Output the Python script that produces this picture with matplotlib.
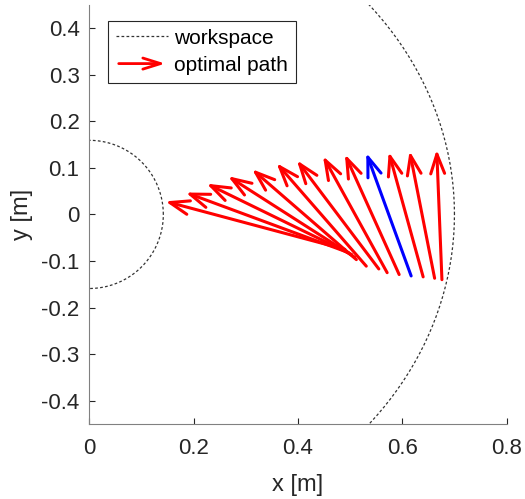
import numpy as np
import matplotlib
matplotlib.use("Agg")
import matplotlib.pyplot as plt
from matplotlib.patches import FancyArrowPatch
from matplotlib.legend_handler import HandlerPatch

plt.rcParams['font.family'] = ['Liberation Sans', 'DejaVu Sans']

# workspace boundaries [m]
r_inner_x = 0.142
r_inner_y = 0.159
r_outer = 0.70

# arrow tails and tips [m]
tail_x = [0.490, 0.497, 0.503, 0.509, 0.512, 0.531, 0.555, 0.571, 0.594, 0.617, 0.640, 0.662, 0.676]
tail_y = [-0.075, -0.082, -0.086, -0.092, -0.097, -0.111, -0.117, -0.125, -0.129, -0.132, -0.134, -0.137, -0.140]
tip_x = [0.146, 0.185, 0.225, 0.266, 0.312, 0.359, 0.398, 0.448, 0.490, 0.531, 0.574, 0.614, 0.666]
tip_y = [0.028, 0.047, 0.066, 0.082, 0.097, 0.110, 0.116, 0.125, 0.129, 0.132, 0.134, 0.136, 0.139]
highlight = 9   # the blue one

grey = '#262626'
astyle = '->,head_length=0.7,head_width=0.25'
dash = (0, (2.2, 1.8))


class HandlerArrow(HandlerPatch):
    def create_artists(self, legend, orig_handle, xdescent, ydescent,
                       width, height, fontsize, trans):
        a = FancyArrowPatch((-xdescent, height / 2), (width - xdescent, height / 2),
                            arrowstyle='->,head_length=0.8,head_width=0.25',
                            mutation_scale=16, color='red', lw=2, transform=trans)
        return [a]


fig = plt.figure(figsize=(5.25, 4.99), dpi=100)
ax = fig.add_axes([0.170, 0.150, 0.795, 0.8406])

t = np.linspace(0, 2 * np.pi, 400)
ws, = ax.plot(r_inner_x * np.cos(t), r_inner_y * np.sin(t), color='#333333',
              lw=0.9, linestyle=dash)
ax.plot(r_outer * np.cos(t), r_outer * np.sin(t), color='#333333', lw=0.9,
        linestyle=dash)

for i in range(len(tip_x)):
    c = 'blue' if i == highlight else 'red'
    arr = FancyArrowPatch((tail_x[i], tail_y[i]), (tip_x[i], tip_y[i]),
                          arrowstyle=astyle, mutation_scale=20,
                          color=c, lw=2.2, shrinkA=0, shrinkB=0)
    ax.add_patch(arr)

proxy = FancyArrowPatch((0, 0), (1, 0), color='red')
leg = ax.legend([ws, proxy], ['workspace', 'optimal path'],
                handler_map={FancyArrowPatch: HandlerArrow()},
                loc='upper left', bbox_to_anchor=(0.045, 0.962),
                fontsize=15, fancybox=False, framealpha=1,
                edgecolor=grey, handlelength=2.5, borderpad=0.38,
                labelspacing=0.4, handletextpad=0.3, borderaxespad=0)
leg.get_frame().set_linewidth(0.8)

ax.set_xlim(0, 0.8)
ax.set_ylim(-0.45, 0.45)
ax.set_xticks([0, 0.2, 0.4, 0.6, 0.8])
ax.set_xticklabels(['0', '0.2', '0.4', '0.6', '0.8'])
ax.set_yticks(np.round(np.arange(-0.4, 0.41, 0.1), 1))
ax.set_yticklabels(['-0.4', '-0.3', '-0.2', '-0.1', '0', '0.1', '0.2', '0.3', '0.4'])
ax.tick_params(direction='in', labelsize=16, colors=grey, length=4, width=0.8)
ax.tick_params(axis='x', pad=10)
ax.tick_params(axis='y', pad=7)
for s in ['top', 'right']:
    ax.spines[s].set_visible(False)
for s in ['left', 'bottom']:
    ax.spines[s].set_color('#808080')
    ax.spines[s].set_linewidth(0.8)
ax.set_xlabel('x [m]', fontsize=17, color=grey, labelpad=11)
ax.set_ylabel('y [m]', fontsize=17, color=grey, labelpad=6)

fig.savefig('out.png', dpi=100)
